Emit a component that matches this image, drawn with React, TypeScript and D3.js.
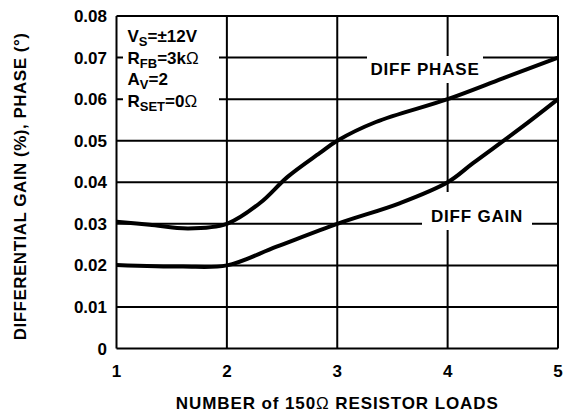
import { useEffect, useRef } from 'react';
import * as d3 from 'd3';

// loads vs differential phase / gain
const phaseLoads = [1, 1.3, 1.65, 2, 2.3, 2.55, 2.84, 3, 3.35, 4, 4.5, 5];
const phaseValues = [0.0305, 0.0298, 0.0289, 0.03, 0.035, 0.0413, 0.047, 0.05, 0.0545, 0.06, 0.065, 0.07];
const gainLoads = [1, 1.6, 2, 2.45, 3, 3.57, 4, 4.23, 4.66, 5];
const gainValues = [0.0201, 0.0197, 0.02, 0.0245, 0.03, 0.035, 0.04, 0.0446, 0.053, 0.06];

const xTicks = [1, 2, 3, 4, 5];
const yTicks = [0, 0.01, 0.02, 0.03, 0.04, 0.05, 0.06, 0.07, 0.08];

const FONT = '"Liberation Sans", Arial, Helvetica, sans-serif';
const FS = 17;

export default function App() {
  const svgRef = useRef<SVGSVGElement>(null);

  useEffect(() => {
    if (!svgRef.current) return;
    const width = 572;
    const height = 414;
    d3.select(svgRef.current).selectAll('*').remove();

    const svg = d3.select(svgRef.current)
      .attr('width', width)
      .attr('height', height)
      .style('font-family', FONT)
      .style('font-weight', 'bold');

    const x = d3.scaleLinear().domain([1, 5]).range([116.5, 558]);
    const y = d3.scaleLinear().domain([0, 0.08]).range([348.5, 16]);

    // grid
    const grid = svg.append('g').attr('stroke', '#000').attr('stroke-width', 2);
    xTicks.forEach(t => {
      grid.append('line')
        .attr('x1', x(t)).attr('x2', x(t))
        .attr('y1', y(0)).attr('y2', y(0.08));
    });
    yTicks.forEach(t => {
      grid.append('line')
        .attr('x1', x(1)).attr('x2', x(5))
        .attr('y1', y(t)).attr('y2', y(t));
    });

    // white boxes behind labels
    svg.append('rect').attr('x', 123).attr('y', 20).attr('width', 96).attr('height', 97).attr('fill', '#fff');
    svg.append('rect').attr('x', 367).attr('y', 56).attr('width', 116).attr('height', 27).attr('fill', '#fff');
    svg.append('rect').attr('x', 422).attr('y', 192).attr('width', 110).attr('height', 38).attr('fill', '#fff');

    // curves
    const line = d3.line<[number, number]>()
      .x(d => x(d[0]))
      .y(d => y(d[1]))
      .curve(d3.curveCatmullRom.alpha(0.5));

    const phase = phaseLoads.map((l, i) => [l, phaseValues[i]] as [number, number]);
    const gain = gainLoads.map((l, i) => [l, gainValues[i]] as [number, number]);

    [phase, gain].forEach(data => {
      svg.append('path')
        .datum(data)
        .attr('fill', 'none')
        .attr('stroke', '#000')
        .attr('stroke-width', 4)
        .attr('d', line);
    });

    // tick labels
    svg.append('g').selectAll('text')
      .data(yTicks)
      .join('text')
      .attr('x', 107)
      .attr('y', d => y(d) + 6)
      .attr('text-anchor', 'end')
      .attr('font-size', FS)
      .text(d => d === 0 ? '0' : d3.format('.2f')(d));

    svg.append('g').selectAll('text')
      .data(xTicks)
      .join('text')
      .attr('x', d => x(d))
      .attr('y', 377)
      .attr('text-anchor', 'middle')
      .attr('font-size', FS)
      .text(d => d);

    // axis titles
    const xt = svg.append('text')
      .attr('x', x(3))
      .attr('y', 409)
      .attr('text-anchor', 'middle')
      .attr('letter-spacing', 0.9)
      .attr('font-size', FS);
    xt.append('tspan').text('NUMBER of 150');
    xt.append('tspan').attr('font-weight', 'normal').text('Ω');
    xt.append('tspan').text(' RESISTOR LOADS');

    svg.append('text')
      .attr('transform', `translate(26, ${(33 + 340) / 2}) rotate(-90)`)
      .attr('text-anchor', 'middle')
      .attr('letter-spacing', 0.5)
      .attr('font-size', FS)
      .text('DIFFERENTIAL GAIN (%), PHASE (°)');

    // curve labels
    svg.append('text').attr('x', 425).attr('y', 75).attr('text-anchor', 'middle')
      .attr('letter-spacing', 0.8)
      .attr('font-size', FS).text('DIFF PHASE');
    svg.append('text').attr('x', 477).attr('y', 222).attr('text-anchor', 'middle')
      .attr('letter-spacing', 0.8)
      .attr('font-size', FS).text('DIFF GAIN');

    // conditions
    const conds: Array<{ main: string; sub: string; rest: string; ohm?: boolean }> = [
      { main: 'V', sub: 'S', rest: '=±12V' },
      { main: 'R', sub: 'FB', rest: '=3k', ohm: true },
      { main: 'A', sub: 'V', rest: '=2' },
      { main: 'R', sub: 'SET', rest: '=0', ohm: true },
    ];
    conds.forEach((c, i) => {
      const t = svg.append('text')
        .attr('x', 127.5)
        .attr('y', 42 + i * 21.6)
        .attr('font-size', FS);
      t.append('tspan').text(c.main);
      t.append('tspan').attr('font-size', 13).attr('dy', 4).text(c.sub);
      t.append('tspan').attr('dy', -4).text(c.rest);
      if (c.ohm) t.append('tspan').attr('font-weight', 'normal').text('Ω');
    });
  }, []);

  return <svg ref={svgRef} style={{ display: 'block', position: 'absolute', left: 0, top: 0 }} />;
}
